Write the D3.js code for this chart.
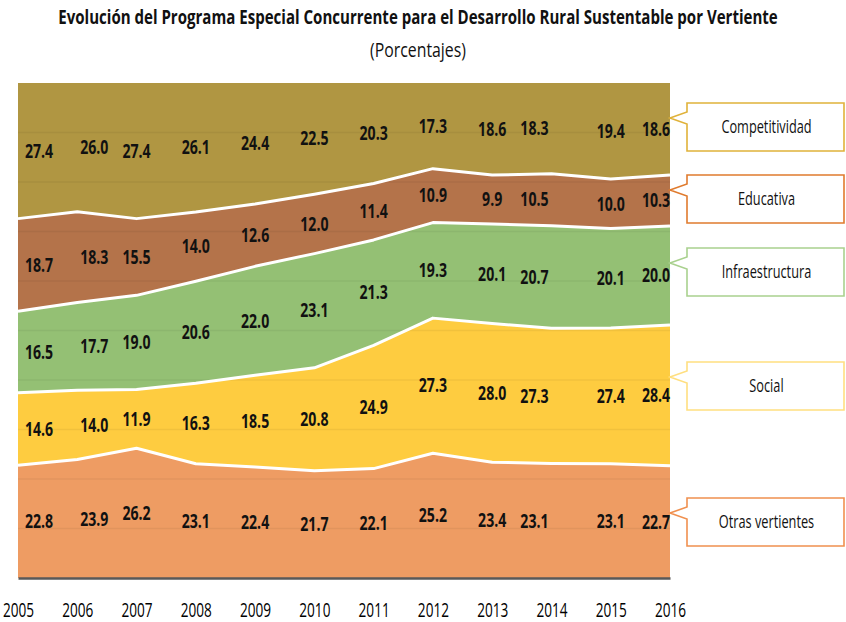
<!DOCTYPE html>
<html>
<head>
<meta charset="utf-8">
<script src="https://cdn.jsdelivr.net/npm/d3@7"></script>
<style>
  html, body { margin: 0; padding: 0; background: #fff; }
  svg { display: block; }
  text { font-family: "Open Sans", "Noto Sans", "Liberation Sans", sans-serif; }
</style>
</head>
<body>
<svg id="chart" width="846" height="622"></svg>
<script>
// Programa Especial Concurrente: share of each vertiente per year (%)
const years = [2005, 2006, 2007, 2008, 2009, 2010, 2011, 2012, 2013, 2014, 2015, 2016];
const otrasVertientes = [22.8, 23.9, 26.2, 23.1, 22.4, 21.7, 22.1, 25.2, 23.4, 23.1, 23.1, 22.7];
const social          = [14.6, 14.0, 11.9, 16.3, 18.5, 20.8, 24.9, 27.3, 28.0, 27.3, 27.4, 28.4];
const infraestructura = [16.5, 17.7, 19.0, 20.6, 22.0, 23.1, 21.3, 19.3, 20.1, 20.7, 20.1, 20.0];
const educativa       = [18.7, 18.3, 15.5, 14.0, 12.6, 12.0, 11.4, 10.9, 9.9, 10.5, 10.0, 10.3];
const competitividad  = [27.4, 26.0, 27.4, 26.1, 24.4, 22.5, 20.3, 17.3, 18.6, 18.3, 19.4, 18.6];
const seriesNames = ["Otras vertientes", "Social", "Infraestructura", "Educativa", "Competitividad"];

const title = "Evolución del Programa Especial Concurrente para el Desarrollo Rural Sustentable por Vertiente";
const subtitle = "(Porcentajes)";

// styling
const fills   = ["#EE9C63", "#FECC40", "#94C074", "#B4734A", "#B09642"];
const borders = ["#F0904F", "#FFDF80", "#A9D18E", "#E07B2E", "#E0B23A"];

// layout
const W = 846, H = 622;
const plot = { left: 18, right: 670, top: 83, bottom: 578 };
// horizontal nudges applied to the value labels of each year
const labelNudge = [21, 17, 0, 0, 0, 0, 0, 0, 0, -17, 0, -14];
// callout boxes on the right (top edge of each box, bottom-to-top series order)
const calloutTop = [498, 362, 248, 175, 103];

const svg = d3.select("#chart");

const columns = [otrasVertientes, social, infraestructura, educativa, competitividad];
const table = years.map((y, i) => {
  const row = { year: y };
  seriesNames.forEach((n, k) => { row[n] = columns[k][i]; });
  return row;
});

const stack = d3.stack().keys(seriesNames).offset(d3.stackOffsetExpand);
const layers = stack(table);

const x = d3.scalePoint().domain(years).range([plot.left, plot.right]);
const y = d3.scaleLinear().domain([0, 1]).range([plot.bottom, plot.top]);

const area = d3.area()
  .x(d => x(d.data.year))
  .y0(d => y(d[0]))
  .y1(d => y(d[1]));

svg.append("g").selectAll("path")
  .data(layers).join("path")
  .attr("d", area)
  .attr("fill", (d, i) => fills[i]);

// faint gridlines visible through the bands
svg.append("g").selectAll("line")
  .data(d3.range(0.1, 1.0, 0.1)).join("line")
  .attr("x1", plot.left).attr("x2", plot.right)
  .attr("y1", d => y(d)).attr("y2", d => y(d))
  .attr("stroke", "#000").attr("stroke-opacity", 0.05).attr("stroke-width", 1.5);

// white separators between bands
const sep = d3.line().x(d => x(d.data.year)).y(d => y(d[1]));
svg.append("g").selectAll("path")
  .data(layers.slice(0, layers.length - 1)).join("path")
  .attr("d", sep)
  .attr("fill", "none")
  .attr("stroke", "#fff")
  .attr("stroke-width", 3)
  .attr("stroke-linejoin", "round");

// baseline axis
const xAxis = d3.axisBottom(x).tickSize(0).tickPadding(0);
const axisG = svg.append("g").attr("transform", `translate(0,${plot.bottom})`).call(xAxis);
axisG.select(".domain").attr("stroke", "#595959").attr("stroke-width", 2.5);
axisG.selectAll(".tick text")
  .attr("fill", "#000")
  .attr("font-size", 17)
  .attr("dy", 0)
  .attr("y", 0)
  .attr("transform", "translate(0,39) scale(0.8,1.18)");

// value labels, centred in each band
layers.forEach((layer, k) => {
  svg.append("g").selectAll("text")
    .data(layer).join("text")
    .attr("transform", (d, i) =>
      `translate(${x(d.data.year) + labelNudge[i]},${y((d[0] + d[1]) / 2)}) scale(0.83,1.1)`)
    .attr("dy", "0.36em")
    .attr("text-anchor", "middle")
    .attr("font-size", 17)
    .attr("font-weight", "bold")
    .attr("fill", "#111")
    .text(d => d3.format(".1f")(d.data[seriesNames[k]]));
});

// callout boxes
const boxX0 = 687, boxX1 = 844, boxH = 48, tipX = 670;
seriesNames.forEach((name, k) => {
  const t = calloutTop[k];
  const p = d3.path();
  p.moveTo(boxX0, t);
  p.lineTo(boxX1, t);
  p.lineTo(boxX1, t + boxH);
  p.lineTo(boxX0, t + boxH);
  p.lineTo(boxX0, t + 21);
  p.lineTo(tipX, t + 15);
  p.lineTo(boxX0, t + 9);
  p.closePath();
  svg.append("path")
    .attr("d", p.toString())
    .attr("fill", "#fff")
    .attr("stroke", borders[k])
    .attr("stroke-width", 1.6);
  svg.append("text")
    .attr("transform", `translate(${(boxX0 + boxX1) / 2 + 1},${t + boxH / 2}) scale(0.88,1.22)`)
    .attr("dy", "0.36em")
    .attr("text-anchor", "middle")
    .attr("font-size", 14.5)
    .attr("fill", "#111")
    .text(name);
});

// title and subtitle, squeezed horizontally to their target widths
function fittedText(str, cx, baseline, size, weight, width, sy) {
  const t = svg.append("text")
    .attr("text-anchor", "middle")
    .attr("font-size", size)
    .attr("font-weight", weight)
    .attr("fill", "#111")
    .text(str);
  const natural = t.node().getComputedTextLength();
  const sx = Math.min(1, width / natural);
  t.attr("transform", `translate(${cx},${baseline}) scale(${sx},${sy})`);
  return t;
}
fittedText(title, 418, 24, 17, "bold", 720, 1.15);
fittedText(subtitle, 418, 57, 17, "normal", 96, 1.2);
</script>
</body>
</html>
